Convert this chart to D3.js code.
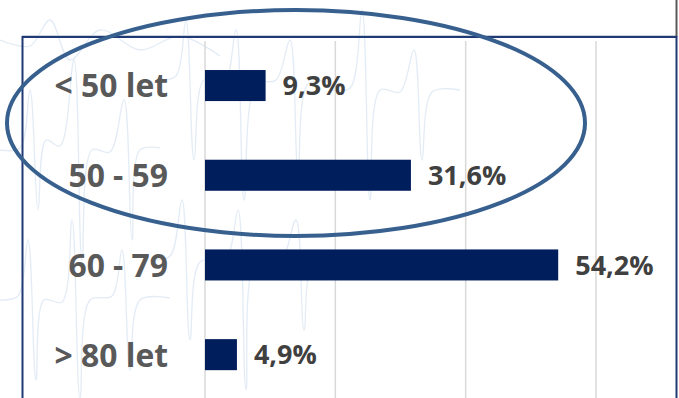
<!DOCTYPE html>
<html>
<head>
<meta charset="utf-8">
<script src="https://cdn.jsdelivr.net/npm/d3@7"></script>
<style>
  html, body { margin: 0; padding: 0; background: #ffffff; }
  svg { display: block; }
</style>
</head>
<body>
<svg id="chart" width="679" height="398"></svg>
<script>
// Age groups and their share of patients (%)
const categories = ["< 50 let", "50 - 59", "60 - 79", "> 80 let"];
const shares = [9.3, 31.6, 54.2, 4.9];
const gridTicks = [0, 20, 40, 60];

const W = 679, H = 398;
const svg = d3.select("#chart");

// faint ECG-style decoration in the backdrop
const deco = svg.append("g").attr("fill", "none").attr("stroke", "#c9dbee")
  .attr("stroke-width", 1.3).attr("opacity", 0.5);
const traces = [
  [[0,150],[20,148],[30,90],[38,210],[46,140],[60,146],[74,60],[82,260],[92,150],[110,152],[124,100],[132,240],[140,150],[160,148]],
  [[0,300],[18,296],[28,240],[36,380],[44,300],[62,302],[72,220],[80,398],[90,300],[112,296],[122,250],[130,370],[140,300],[170,298]],
  [[160,80],[176,76],[186,20],[194,160],[204,80],[224,84],[236,30],[244,200],[256,84],[276,80],[290,40],[298,170],[308,84],[330,82]],
  [[330,90],[350,88],[362,10],[370,200],[380,90],[400,92],[414,50],[422,160],[432,92],[460,90]],
  [[150,260],[170,256],[182,200],[190,340],[200,262],[226,258],[238,210],[246,390],[256,260],[280,262],[296,220],[304,330],[314,262],[350,260]],
  [[0,40],[30,46],[50,20],[70,60],[100,30],[140,50],[180,36],[220,56]]
];
const traceLine = d3.line().curve(d3.curveCatmullRom.alpha(0.5));
deco.selectAll("path").data(traces).join("path").attr("d", traceLine);

// scales
const x = d3.scaleLinear().domain([0, 60]).range([205, 596]);
const y = d3.scaleBand().domain(categories).range([40.7, 399.5])
  .paddingInner(0.654).paddingOuter(0.327);

// vertical gridlines
svg.append("g").selectAll("line").data(gridTicks).join("line")
  .attr("x1", d => x(d)).attr("x2", d => x(d))
  .attr("y1", 41).attr("y2", H)
  .attr("stroke", "#d9d9d9").attr("stroke-width", 1.5);

// frame
const frame = svg.append("g").attr("fill", "none");
frame.append("line").attr("x1", 22).attr("x2", 677).attr("y1", 35.5).attr("y2", 35.5)
  .attr("stroke", "#c8d0dc").attr("stroke-width", 1);
frame.append("line").attr("x1", 676.5).attr("x2", 676.5).attr("y1", 0).attr("y2", 37)
  .attr("stroke", "#595959").attr("stroke-width", 2);
frame.append("path").attr("d", `M22.5,${H} V37 H676.5 V${H}`)
  .attr("stroke", "#1f3a75").attr("stroke-width", 2);

// bars
svg.append("g").selectAll("rect").data(shares).join("rect")
  .attr("x", x(0))
  .attr("y", (d, i) => y(categories[i]))
  .attr("width", d => x(d) - x(0))
  .attr("height", y.bandwidth())
  .attr("fill", "#001d5c");

// category labels
svg.append("g").selectAll("text").data(categories).join("text")
  .attr("transform", d => `translate(168,${y(d) + y.bandwidth() / 2}) scale(0.965,1)`)
  .attr("dy", "0.36em")
  .attr("text-anchor", "end")
  .attr("font-family", "'Open Sans', sans-serif")
  .attr("font-weight", 700)
  .attr("font-size", 33)
  .attr("fill", "#595959")
  .text(d => d);

// value labels
const fmt = v => v.toFixed(1).replace(".", ",") + "%";
svg.append("g").selectAll("text").data(shares).join("text")
  .attr("x", (d) => x(d) + 17)
  .attr("y", (d, i) => y(categories[i]) + y.bandwidth() / 2)
  .attr("dy", "0.36em")
  .attr("font-family", "'Open Sans', sans-serif")
  .attr("font-weight", 700)
  .attr("font-size", 27)
  .attr("fill", "#404040")
  .text(d => fmt(d));

// highlight ring around the two youngest groups
svg.append("ellipse")
  .attr("cx", 296).attr("cy", 123).attr("rx", 289).attr("ry", 113)
  .attr("fill", "none").attr("stroke", "#37608f").attr("stroke-width", 4);
</script>
</body>
</html>
